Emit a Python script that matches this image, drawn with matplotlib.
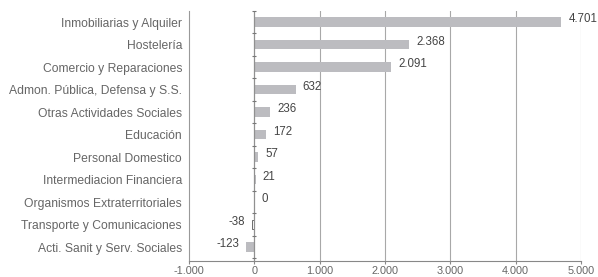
import matplotlib
matplotlib.use("Agg")
import matplotlib.pyplot as plt
import numpy as np

categories = ["Inmobiliarias y Alquiler", "Hostelería", "Comercio y Reparaciones",
              "Admon. Pública, Defensa y S.S.", "Otras Actividades Sociales", "Educación",
              "Personal Domestico", "Intermediacion Financiera", "Organismos Extraterritoriales",
              "Transporte y Comunicaciones", "Acti. Sanit y Serv. Sociales"]
values = [4701, 2368, 2091, 632, 236, 172, 57, 21, 0, -38, -123]
xticks = [-1000, 0, 1000, 2000, 3000, 4000, 5000]

def fmt(v):
    return f"{v:,}".replace(",", ".")

plt.rcParams['font.family'] = ['Liberation Sans', 'DejaVu Sans']
fig = plt.figure(figsize=(5.98, 2.77), dpi=100)
ax = fig.add_axes([189/598, 1-261/277, (581-189)/598, (261-11)/277])

n = len(categories)
ypos = np.arange(n)[::-1]
barc = '#bcbcc0'
bars = ax.barh(ypos, values, height=0.42, color=barc, zorder=3)
for b, v in zip(bars, values):
    if v == -38:
        b.set_edgecolor('#555555'); b.set_linewidth(0.6); b.set_facecolor('white')

ax.set_xlim(-1000, 5000)
ax.set_ylim(-0.62, n - 1 + 0.49)
ax.set_xticks(xticks)
ax.set_xticklabels([fmt(t) for t in xticks], color='#666666', fontsize=7.8)
ax.set_yticks(ypos)
ax.set_yticklabels(categories, color='#666666', fontsize=8.7)
ax.tick_params(axis='y', length=0, pad=5)
ax.tick_params(axis='x', length=2.5, color='#888888', pad=1)

for t in xticks[2:]:
    ax.axvline(t, color='#a8a8a8', lw=0.8, zorder=1)
ax.axvline(0, color='#909090', lw=0.9, zorder=4)
bounds = np.arange(n + 1) - 0.5
ax.scatter(np.zeros(len(bounds)), bounds, marker='_', s=12, color='#777777', lw=0.8, zorder=5, clip_on=False)

for s in ['top', 'right']:
    ax.spines[s].set_visible(False)
ax.spines['left'].set_color('#999999')
ax.spines['bottom'].set_color('#888888')

for y, v in zip(ypos, values):
    if v >= 0:
        ax.text(v + 110, y + 0.12, fmt(v), ha='left', va='center', fontsize=8.3, color='#444444', zorder=6)
    else:
        ax.text(v - 110, y + 0.12, fmt(v), ha='right', va='center', fontsize=8.3, color='#444444', zorder=6)

fig.savefig("out.png", dpi=100)
